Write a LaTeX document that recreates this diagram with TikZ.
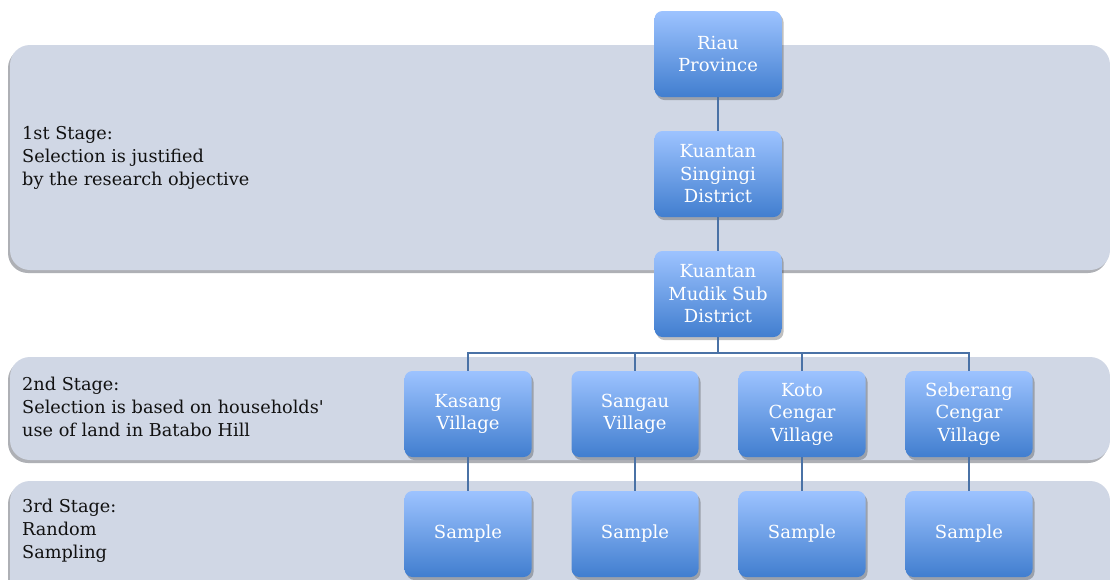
\documentclass[tikz,border=0pt]{standalone}
\usepackage{fontspec}
\setmainfont{DejaVu Serif}[Ligatures=TeXOff]
\usetikzlibrary{shadows}
\definecolor{bandcol}{HTML}{D0D7E5}
\definecolor{bandshade}{HTML}{9A9DA3}
\definecolor{boxtop}{HTML}{9DC3FF}
\definecolor{boxbot}{HTML}{417ECF}
\definecolor{linkcol}{HTML}{4A72A6}
\definecolor{textcol}{HTML}{111111}

\tikzset{
	band/.style={fill=bandcol,rounded corners=20pt,
		drop shadow={shadow xshift=-2pt,shadow yshift=-3pt,fill=bandshade,opacity=0.8}},
	stagetext/.style={anchor=west,align=left,inner sep=0pt,text=textcol,font=\fontsize{17.7}{22.8}\selectfont},
	unitbox/.style={rounded corners=8pt,top color=boxtop,bottom color=boxbot,
		minimum width=127pt,minimum height=86pt,inner sep=2pt,align=center,text=white,
		font=\fontsize{18}{22.5}\selectfont,
		drop shadow={shadow xshift=2pt,shadow yshift=-3pt,fill=black,opacity=0.25}},
	link/.style={draw=linkcol,line width=2pt}
}

\begin{document}
\begin{tikzpicture}[x=1pt,y=-1pt]
\useasboundingbox[fill=white] (0,0) rectangle (1110,579);
% stage bands
\path[band] (10,45) rectangle (1110,270);
\path[band] (10,357) rectangle (1110,460);
\path[band] (10,481) rectangle (1110,610);
\node[stagetext] (stage1) at (22,158) {1st Stage:\\Selection is justified\\by the research objective};
\node[stagetext] (stage2) at (22,407) {2nd Stage:\\Selection is based on households'\\use of land in Batabo Hill};
\node[stagetext] (stage3) at (22,531) {3rd Stage:\\Random\\Sampling};
% boxes
\node[unitbox] (riau) at (718,54) {Riau\\Province};
\node[unitbox] (singingi) at (718,174) {Kuantan\\Singingi\\District};
\node[unitbox] (mudik) at (718,294) {Kuantan\\Mudik Sub\\District};
\coordinate (bus) at (718,353);
\draw[link] (riau) -- (singingi);
\draw[link] (singingi) -- (mudik);
\draw[link] (mudik) -- (bus);
\foreach \name/\label [count=\i] in {kasang/Kasang\\Village, sangau/Sangau\\Village,
	koto/Koto\\Cengar\\Village, seberang/Seberang\\Cengar\\Village}{
	\node[unitbox] (\name) at (301+167*\i,414) {\label};
	\node[unitbox] (sample\i) at (301+167*\i,534) {Sample};
	\draw[link] (bus) -| (\name);
	\draw[link] (\name) -- (sample\i);
	}
\end{tikzpicture}
\end{document}
